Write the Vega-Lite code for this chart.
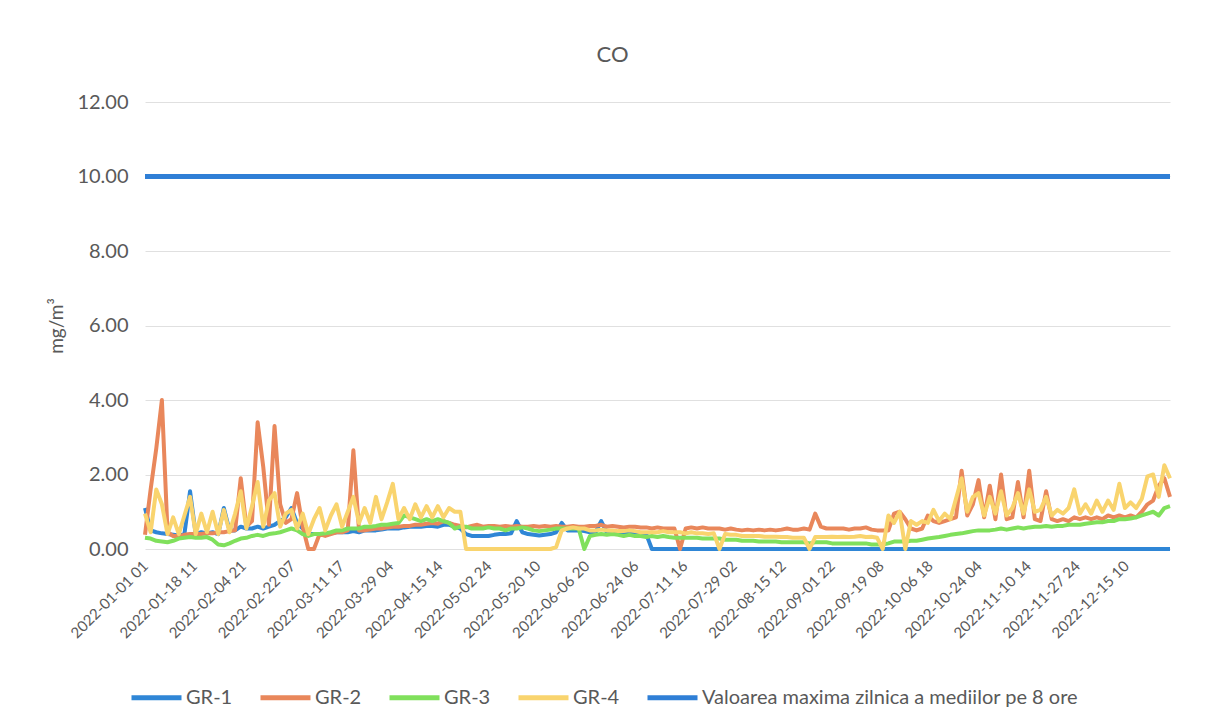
{
  "$schema": "https://vega.github.io/schema/vega-lite/v6.json",
  "width": 1025,
  "height": 447,
  "autosize": {"type": "none"},
  "padding": {"left": 145, "top": 102, "right": 37, "bottom": 176},
  "background": "white",
  "title": {"text": "CO", "fontSize": 22, "font": "Lato", "fontWeight": "normal", "color": "#595959", "dx": -45, "offset": 25},
  "config": {
    "view": {"stroke": null},
    "font": "Lato",
    "axisY": {"titleFont": "Lato", "titleFontSize": 19, "titleFontWeight": "normal", "titleColor": "#595959", "titlePadding": 10}
  },
  "datasets": {
    "co": [
      {"d":"2022-01-01","GR-1":1.10,"GR-2":0.38,"GR-3":0.30,"GR-4":0.95},
      {"d":"2022-01-03","GR-1":0.50,"GR-2":1.60,"GR-3":0.28,"GR-4":0.45},
      {"d":"2022-01-05","GR-1":0.45,"GR-2":2.70,"GR-3":0.22,"GR-4":1.60},
      {"d":"2022-01-07","GR-1":0.42,"GR-2":4.00,"GR-3":0.20,"GR-4":1.20},
      {"d":"2022-01-09","GR-1":0.40,"GR-2":0.45,"GR-3":0.18,"GR-4":0.40},
      {"d":"2022-01-11","GR-1":0.38,"GR-2":0.35,"GR-3":0.22,"GR-4":0.85},
      {"d":"2022-01-13","GR-1":0.36,"GR-2":0.35,"GR-3":0.28,"GR-4":0.40},
      {"d":"2022-01-15","GR-1":0.40,"GR-2":0.38,"GR-3":0.30,"GR-4":0.90},
      {"d":"2022-01-17","GR-1":1.55,"GR-2":0.40,"GR-3":0.32,"GR-4":1.40},
      {"d":"2022-01-19","GR-1":0.40,"GR-2":0.40,"GR-3":0.30,"GR-4":0.40},
      {"d":"2022-01-21","GR-1":0.45,"GR-2":0.40,"GR-3":0.30,"GR-4":0.95},
      {"d":"2022-01-23","GR-1":0.42,"GR-2":0.42,"GR-3":0.32,"GR-4":0.45},
      {"d":"2022-01-25","GR-1":0.45,"GR-2":0.42,"GR-3":0.25,"GR-4":1.00},
      {"d":"2022-01-27","GR-1":0.40,"GR-2":0.45,"GR-3":0.12,"GR-4":0.40},
      {"d":"2022-01-29","GR-1":1.10,"GR-2":0.45,"GR-3":0.10,"GR-4":1.05},
      {"d":"2022-01-31","GR-1":0.50,"GR-2":0.48,"GR-3":0.15,"GR-4":0.45},
      {"d":"2022-02-02","GR-1":0.50,"GR-2":0.50,"GR-3":0.22,"GR-4":0.95},
      {"d":"2022-02-04","GR-1":0.60,"GR-2":1.90,"GR-3":0.28,"GR-4":1.55},
      {"d":"2022-02-06","GR-1":0.55,"GR-2":0.60,"GR-3":0.30,"GR-4":0.55},
      {"d":"2022-02-08","GR-1":0.55,"GR-2":0.75,"GR-3":0.35,"GR-4":1.15},
      {"d":"2022-02-10","GR-1":0.60,"GR-2":3.40,"GR-3":0.38,"GR-4":1.80},
      {"d":"2022-02-12","GR-1":0.55,"GR-2":2.20,"GR-3":0.35,"GR-4":0.60},
      {"d":"2022-02-14","GR-1":0.60,"GR-2":0.65,"GR-3":0.40,"GR-4":1.30},
      {"d":"2022-02-16","GR-1":0.65,"GR-2":3.30,"GR-3":0.42,"GR-4":1.50},
      {"d":"2022-02-18","GR-1":0.75,"GR-2":1.20,"GR-3":0.45,"GR-4":0.60},
      {"d":"2022-02-20","GR-1":0.85,"GR-2":0.70,"GR-3":0.50,"GR-4":0.95},
      {"d":"2022-02-22","GR-1":1.10,"GR-2":0.80,"GR-3":0.55,"GR-4":1.05},
      {"d":"2022-02-24","GR-1":0.70,"GR-2":1.50,"GR-3":0.50,"GR-4":0.55},
      {"d":"2022-02-26","GR-1":0.55,"GR-2":0.60,"GR-3":0.40,"GR-4":0.95},
      {"d":"2022-02-28","GR-1":0.40,"GR-2":0.00,"GR-3":0.35,"GR-4":0.40},
      {"d":"2022-03-02","GR-1":0.40,"GR-2":0.00,"GR-3":0.40,"GR-4":0.80},
      {"d":"2022-03-04","GR-1":0.40,"GR-2":0.40,"GR-3":0.40,"GR-4":1.10},
      {"d":"2022-03-06","GR-1":0.40,"GR-2":0.35,"GR-3":0.42,"GR-4":0.50},
      {"d":"2022-03-08","GR-1":0.42,"GR-2":0.40,"GR-3":0.45,"GR-4":0.90},
      {"d":"2022-03-10","GR-1":0.45,"GR-2":0.45,"GR-3":0.50,"GR-4":1.20},
      {"d":"2022-03-12","GR-1":0.45,"GR-2":0.45,"GR-3":0.50,"GR-4":0.60},
      {"d":"2022-03-14","GR-1":0.45,"GR-2":0.50,"GR-3":0.55,"GR-4":1.00},
      {"d":"2022-03-16","GR-1":0.48,"GR-2":2.65,"GR-3":0.55,"GR-4":1.40},
      {"d":"2022-03-18","GR-1":0.45,"GR-2":0.50,"GR-3":0.55,"GR-4":0.70},
      {"d":"2022-03-20","GR-1":0.50,"GR-2":0.50,"GR-3":0.60,"GR-4":1.10},
      {"d":"2022-03-22","GR-1":0.50,"GR-2":0.52,"GR-3":0.60,"GR-4":0.70},
      {"d":"2022-03-24","GR-1":0.50,"GR-2":0.55,"GR-3":0.62,"GR-4":1.40},
      {"d":"2022-03-26","GR-1":0.52,"GR-2":0.55,"GR-3":0.65,"GR-4":0.80},
      {"d":"2022-03-28","GR-1":0.55,"GR-2":0.58,"GR-3":0.65,"GR-4":1.25},
      {"d":"2022-03-30","GR-1":0.55,"GR-2":0.60,"GR-3":0.68,"GR-4":1.75},
      {"d":"2022-04-01","GR-1":0.55,"GR-2":0.60,"GR-3":0.70,"GR-4":0.80},
      {"d":"2022-04-03","GR-1":0.58,"GR-2":0.62,"GR-3":0.90,"GR-4":1.10},
      {"d":"2022-04-05","GR-1":0.60,"GR-2":0.62,"GR-3":0.85,"GR-4":0.80},
      {"d":"2022-04-07","GR-1":0.60,"GR-2":0.65,"GR-3":0.80,"GR-4":1.20},
      {"d":"2022-04-09","GR-1":0.60,"GR-2":0.65,"GR-3":0.75,"GR-4":0.85},
      {"d":"2022-04-11","GR-1":0.62,"GR-2":0.68,"GR-3":0.80,"GR-4":1.15},
      {"d":"2022-04-13","GR-1":0.62,"GR-2":0.70,"GR-3":0.75,"GR-4":0.85},
      {"d":"2022-04-15","GR-1":0.60,"GR-2":0.68,"GR-3":0.80,"GR-4":1.15},
      {"d":"2022-04-17","GR-1":0.65,"GR-2":0.75,"GR-3":0.75,"GR-4":0.85},
      {"d":"2022-04-19","GR-1":0.65,"GR-2":0.70,"GR-3":0.70,"GR-4":1.10},
      {"d":"2022-04-21","GR-1":0.60,"GR-2":0.65,"GR-3":0.55,"GR-4":1.00},
      {"d":"2022-04-23","GR-1":0.55,"GR-2":0.62,"GR-3":0.60,"GR-4":1.00},
      {"d":"2022-04-25","GR-1":0.40,"GR-2":0.58,"GR-3":0.60,"GR-4":0.00},
      {"d":"2022-04-27","GR-1":0.35,"GR-2":0.62,"GR-3":0.55,"GR-4":0.00},
      {"d":"2022-04-29","GR-1":0.35,"GR-2":0.65,"GR-3":0.55,"GR-4":0.00},
      {"d":"2022-05-01","GR-1":0.35,"GR-2":0.60,"GR-3":0.55,"GR-4":0.00},
      {"d":"2022-05-03","GR-1":0.35,"GR-2":0.62,"GR-3":0.58,"GR-4":0.00},
      {"d":"2022-05-05","GR-1":0.38,"GR-2":0.62,"GR-3":0.55,"GR-4":0.00},
      {"d":"2022-05-07","GR-1":0.40,"GR-2":0.60,"GR-3":0.55,"GR-4":0.00},
      {"d":"2022-05-09","GR-1":0.40,"GR-2":0.62,"GR-3":0.50,"GR-4":0.00},
      {"d":"2022-05-11","GR-1":0.42,"GR-2":0.60,"GR-3":0.55,"GR-4":0.00},
      {"d":"2022-05-13","GR-1":0.75,"GR-2":0.62,"GR-3":0.55,"GR-4":0.00},
      {"d":"2022-05-15","GR-1":0.45,"GR-2":0.60,"GR-3":0.58,"GR-4":0.00},
      {"d":"2022-05-17","GR-1":0.40,"GR-2":0.60,"GR-3":0.55,"GR-4":0.00},
      {"d":"2022-05-19","GR-1":0.38,"GR-2":0.62,"GR-3":0.50,"GR-4":0.00},
      {"d":"2022-05-21","GR-1":0.36,"GR-2":0.60,"GR-3":0.48,"GR-4":0.00},
      {"d":"2022-05-23","GR-1":0.38,"GR-2":0.62,"GR-3":0.50,"GR-4":0.00},
      {"d":"2022-05-25","GR-1":0.40,"GR-2":0.60,"GR-3":0.52,"GR-4":0.00},
      {"d":"2022-05-27","GR-1":0.45,"GR-2":0.62,"GR-3":0.55,"GR-4":0.05},
      {"d":"2022-05-29","GR-1":0.70,"GR-2":0.60,"GR-3":0.55,"GR-4":0.50},
      {"d":"2022-05-31","GR-1":0.50,"GR-2":0.60,"GR-3":0.55,"GR-4":0.55},
      {"d":"2022-06-02","GR-1":0.50,"GR-2":0.62,"GR-3":0.55,"GR-4":0.58},
      {"d":"2022-06-04","GR-1":0.50,"GR-2":0.60,"GR-3":0.55,"GR-4":0.55},
      {"d":"2022-06-06","GR-1":0.48,"GR-2":0.60,"GR-3":0.00,"GR-4":0.55},
      {"d":"2022-06-08","GR-1":0.45,"GR-2":0.62,"GR-3":0.35,"GR-4":0.50},
      {"d":"2022-06-10","GR-1":0.45,"GR-2":0.62,"GR-3":0.38,"GR-4":0.50},
      {"d":"2022-06-12","GR-1":0.75,"GR-2":0.65,"GR-3":0.40,"GR-4":0.52},
      {"d":"2022-06-14","GR-1":0.45,"GR-2":0.60,"GR-3":0.38,"GR-4":0.50},
      {"d":"2022-06-16","GR-1":0.45,"GR-2":0.62,"GR-3":0.40,"GR-4":0.50},
      {"d":"2022-06-18","GR-1":0.45,"GR-2":0.60,"GR-3":0.38,"GR-4":0.48},
      {"d":"2022-06-20","GR-1":0.42,"GR-2":0.58,"GR-3":0.35,"GR-4":0.48},
      {"d":"2022-06-22","GR-1":0.42,"GR-2":0.60,"GR-3":0.38,"GR-4":0.50},
      {"d":"2022-06-24","GR-1":0.42,"GR-2":0.60,"GR-3":0.35,"GR-4":0.48},
      {"d":"2022-06-26","GR-1":0.40,"GR-2":0.58,"GR-3":0.35,"GR-4":0.45},
      {"d":"2022-06-28","GR-1":0.40,"GR-2":0.58,"GR-3":0.32,"GR-4":0.45},
      {"d":"2022-06-30","GR-1":0.00,"GR-2":0.55,"GR-3":0.35,"GR-4":0.45},
      {"d":"2022-07-02","GR-1":0.00,"GR-2":0.58,"GR-3":0.32,"GR-4":0.45},
      {"d":"2022-07-04","GR-1":0.00,"GR-2":0.55,"GR-3":0.35,"GR-4":0.48},
      {"d":"2022-07-06","GR-1":0.00,"GR-2":0.55,"GR-3":0.32,"GR-4":0.45},
      {"d":"2022-07-08","GR-1":0.00,"GR-2":0.55,"GR-3":0.30,"GR-4":0.45},
      {"d":"2022-07-10","GR-1":0.00,"GR-2":0.00,"GR-3":0.30,"GR-4":0.45},
      {"d":"2022-07-12","GR-1":0.00,"GR-2":0.55,"GR-3":0.30,"GR-4":0.42},
      {"d":"2022-07-14","GR-1":0.00,"GR-2":0.58,"GR-3":0.30,"GR-4":0.45},
      {"d":"2022-07-16","GR-1":0.00,"GR-2":0.55,"GR-3":0.30,"GR-4":0.42},
      {"d":"2022-07-18","GR-1":0.00,"GR-2":0.58,"GR-3":0.28,"GR-4":0.42},
      {"d":"2022-07-20","GR-1":0.00,"GR-2":0.55,"GR-3":0.28,"GR-4":0.40},
      {"d":"2022-07-22","GR-1":0.00,"GR-2":0.55,"GR-3":0.28,"GR-4":0.42},
      {"d":"2022-07-24","GR-1":0.00,"GR-2":0.55,"GR-3":0.28,"GR-4":0.00},
      {"d":"2022-07-26","GR-1":0.00,"GR-2":0.52,"GR-3":0.25,"GR-4":0.40},
      {"d":"2022-07-28","GR-1":0.00,"GR-2":0.55,"GR-3":0.25,"GR-4":0.38},
      {"d":"2022-07-30","GR-1":0.00,"GR-2":0.52,"GR-3":0.25,"GR-4":0.38},
      {"d":"2022-08-01","GR-1":0.00,"GR-2":0.50,"GR-3":0.22,"GR-4":0.35},
      {"d":"2022-08-03","GR-1":0.00,"GR-2":0.52,"GR-3":0.22,"GR-4":0.35},
      {"d":"2022-08-05","GR-1":0.00,"GR-2":0.50,"GR-3":0.22,"GR-4":0.35},
      {"d":"2022-08-07","GR-1":0.00,"GR-2":0.52,"GR-3":0.20,"GR-4":0.35},
      {"d":"2022-08-09","GR-1":0.00,"GR-2":0.50,"GR-3":0.20,"GR-4":0.33},
      {"d":"2022-08-11","GR-1":0.00,"GR-2":0.52,"GR-3":0.20,"GR-4":0.33},
      {"d":"2022-08-13","GR-1":0.00,"GR-2":0.50,"GR-3":0.20,"GR-4":0.33},
      {"d":"2022-08-15","GR-1":0.00,"GR-2":0.52,"GR-3":0.18,"GR-4":0.32},
      {"d":"2022-08-17","GR-1":0.00,"GR-2":0.55,"GR-3":0.18,"GR-4":0.32},
      {"d":"2022-08-19","GR-1":0.00,"GR-2":0.52,"GR-3":0.18,"GR-4":0.30},
      {"d":"2022-08-21","GR-1":0.00,"GR-2":0.52,"GR-3":0.18,"GR-4":0.30},
      {"d":"2022-08-23","GR-1":0.00,"GR-2":0.55,"GR-3":0.18,"GR-4":0.30},
      {"d":"2022-08-25","GR-1":0.00,"GR-2":0.52,"GR-3":0.15,"GR-4":0.00},
      {"d":"2022-08-27","GR-1":0.00,"GR-2":0.95,"GR-3":0.18,"GR-4":0.32},
      {"d":"2022-08-29","GR-1":0.00,"GR-2":0.60,"GR-3":0.18,"GR-4":0.32},
      {"d":"2022-08-31","GR-1":0.00,"GR-2":0.55,"GR-3":0.18,"GR-4":0.32},
      {"d":"2022-09-02","GR-1":0.00,"GR-2":0.55,"GR-3":0.15,"GR-4":0.33},
      {"d":"2022-09-04","GR-1":0.00,"GR-2":0.55,"GR-3":0.15,"GR-4":0.32},
      {"d":"2022-09-06","GR-1":0.00,"GR-2":0.55,"GR-3":0.15,"GR-4":0.33},
      {"d":"2022-09-08","GR-1":0.00,"GR-2":0.52,"GR-3":0.15,"GR-4":0.32},
      {"d":"2022-09-10","GR-1":0.00,"GR-2":0.55,"GR-3":0.15,"GR-4":0.33},
      {"d":"2022-09-12","GR-1":0.00,"GR-2":0.55,"GR-3":0.15,"GR-4":0.35},
      {"d":"2022-09-14","GR-1":0.00,"GR-2":0.58,"GR-3":0.15,"GR-4":0.32},
      {"d":"2022-09-16","GR-1":0.00,"GR-2":0.52,"GR-3":0.12,"GR-4":0.33},
      {"d":"2022-09-18","GR-1":0.00,"GR-2":0.50,"GR-3":0.12,"GR-4":0.30},
      {"d":"2022-09-20","GR-1":0.00,"GR-2":0.50,"GR-3":0.12,"GR-4":0.00},
      {"d":"2022-09-22","GR-1":0.00,"GR-2":0.50,"GR-3":0.15,"GR-4":0.90},
      {"d":"2022-09-24","GR-1":0.00,"GR-2":0.95,"GR-3":0.20,"GR-4":0.70},
      {"d":"2022-09-26","GR-1":0.00,"GR-2":1.00,"GR-3":0.20,"GR-4":1.00},
      {"d":"2022-09-28","GR-1":0.00,"GR-2":0.80,"GR-3":0.20,"GR-4":0.00},
      {"d":"2022-09-30","GR-1":0.00,"GR-2":0.55,"GR-3":0.22,"GR-4":0.75},
      {"d":"2022-10-02","GR-1":0.00,"GR-2":0.50,"GR-3":0.22,"GR-4":0.65},
      {"d":"2022-10-04","GR-1":0.00,"GR-2":0.55,"GR-3":0.25,"GR-4":0.75},
      {"d":"2022-10-06","GR-1":0.00,"GR-2":0.90,"GR-3":0.28,"GR-4":0.70},
      {"d":"2022-10-08","GR-1":0.00,"GR-2":0.75,"GR-3":0.30,"GR-4":1.05},
      {"d":"2022-10-10","GR-1":0.00,"GR-2":0.70,"GR-3":0.32,"GR-4":0.75},
      {"d":"2022-10-12","GR-1":0.00,"GR-2":0.75,"GR-3":0.35,"GR-4":0.95},
      {"d":"2022-10-14","GR-1":0.00,"GR-2":0.80,"GR-3":0.38,"GR-4":0.80},
      {"d":"2022-10-16","GR-1":0.00,"GR-2":0.85,"GR-3":0.40,"GR-4":1.35},
      {"d":"2022-10-18","GR-1":0.00,"GR-2":2.10,"GR-3":0.42,"GR-4":1.90},
      {"d":"2022-10-20","GR-1":0.00,"GR-2":0.90,"GR-3":0.45,"GR-4":1.00},
      {"d":"2022-10-22","GR-1":0.00,"GR-2":1.20,"GR-3":0.48,"GR-4":1.40},
      {"d":"2022-10-24","GR-1":0.00,"GR-2":1.85,"GR-3":0.50,"GR-4":1.50},
      {"d":"2022-10-26","GR-1":0.00,"GR-2":0.85,"GR-3":0.50,"GR-4":0.90},
      {"d":"2022-10-28","GR-1":0.00,"GR-2":1.70,"GR-3":0.50,"GR-4":1.40},
      {"d":"2022-10-30","GR-1":0.00,"GR-2":0.80,"GR-3":0.52,"GR-4":0.95},
      {"d":"2022-11-01","GR-1":0.00,"GR-2":2.00,"GR-3":0.55,"GR-4":1.55},
      {"d":"2022-11-03","GR-1":0.00,"GR-2":0.80,"GR-3":0.52,"GR-4":0.90},
      {"d":"2022-11-05","GR-1":0.00,"GR-2":0.85,"GR-3":0.55,"GR-4":1.10},
      {"d":"2022-11-07","GR-1":0.00,"GR-2":1.80,"GR-3":0.58,"GR-4":1.50},
      {"d":"2022-11-09","GR-1":0.00,"GR-2":0.85,"GR-3":0.55,"GR-4":0.95},
      {"d":"2022-11-11","GR-1":0.00,"GR-2":2.10,"GR-3":0.58,"GR-4":1.60},
      {"d":"2022-11-13","GR-1":0.00,"GR-2":0.80,"GR-3":0.60,"GR-4":1.00},
      {"d":"2022-11-15","GR-1":0.00,"GR-2":0.75,"GR-3":0.60,"GR-4":1.05},
      {"d":"2022-11-17","GR-1":0.00,"GR-2":1.55,"GR-3":0.62,"GR-4":1.40},
      {"d":"2022-11-19","GR-1":0.00,"GR-2":0.80,"GR-3":0.60,"GR-4":0.90},
      {"d":"2022-11-21","GR-1":0.00,"GR-2":0.75,"GR-3":0.62,"GR-4":1.05},
      {"d":"2022-11-23","GR-1":0.00,"GR-2":0.80,"GR-3":0.62,"GR-4":0.95},
      {"d":"2022-11-25","GR-1":0.00,"GR-2":0.75,"GR-3":0.65,"GR-4":1.10},
      {"d":"2022-11-27","GR-1":0.00,"GR-2":0.85,"GR-3":0.65,"GR-4":1.60},
      {"d":"2022-11-29","GR-1":0.00,"GR-2":0.80,"GR-3":0.65,"GR-4":0.95},
      {"d":"2022-12-01","GR-1":0.00,"GR-2":0.85,"GR-3":0.68,"GR-4":1.20},
      {"d":"2022-12-03","GR-1":0.00,"GR-2":0.80,"GR-3":0.70,"GR-4":0.95},
      {"d":"2022-12-05","GR-1":0.00,"GR-2":0.85,"GR-3":0.72,"GR-4":1.30},
      {"d":"2022-12-07","GR-1":0.00,"GR-2":0.80,"GR-3":0.72,"GR-4":1.00},
      {"d":"2022-12-09","GR-1":0.00,"GR-2":0.90,"GR-3":0.75,"GR-4":1.30},
      {"d":"2022-12-11","GR-1":0.00,"GR-2":0.85,"GR-3":0.75,"GR-4":1.05},
      {"d":"2022-12-13","GR-1":0.00,"GR-2":0.90,"GR-3":0.80,"GR-4":1.75},
      {"d":"2022-12-15","GR-1":0.00,"GR-2":0.85,"GR-3":0.80,"GR-4":1.10},
      {"d":"2022-12-17","GR-1":0.00,"GR-2":0.90,"GR-3":0.82,"GR-4":1.25},
      {"d":"2022-12-19","GR-1":0.00,"GR-2":0.85,"GR-3":0.85,"GR-4":1.10},
      {"d":"2022-12-21","GR-1":0.00,"GR-2":1.00,"GR-3":0.90,"GR-4":1.35},
      {"d":"2022-12-23","GR-1":0.00,"GR-2":1.20,"GR-3":0.95,"GR-4":1.95},
      {"d":"2022-12-25","GR-1":0.00,"GR-2":1.30,"GR-3":1.00,"GR-4":2.00},
      {"d":"2022-12-27","GR-1":0.00,"GR-2":1.70,"GR-3":0.90,"GR-4":1.40},
      {"d":"2022-12-29","GR-1":0.00,"GR-2":1.90,"GR-3":1.10,"GR-4":2.25},
      {"d":"2022-12-31","GR-1":0.00,"GR-2":1.40,"GR-3":1.15,"GR-4":1.90}
    ],
    "limit": [
      {"d":"2022-01-01","series":"Valoarea maxima zilnica a mediilor pe 8 ore","value":10},
      {"d":"2022-12-31","series":"Valoarea maxima zilnica a mediilor pe 8 ore","value":10}
    ]
  },
  "encoding": {
    "x": {
      "field": "d",
      "type": "temporal",
      "scale": {"type": "utc", "domain": [{"year":2022,"month":1,"date":1,"utc":true},{"year":2022,"month":12,"date":31,"utc":true}]},
      "axis": {
        "title": null,
        "grid": false,
        "domain": false,
        "ticks": false,
        "labelAngle": -45,
        "labelAlign": "right",
        "labelBaseline": "middle",
        "labelPadding": 14,
        "labelFontSize": 15,
        "labelColor": "#595959",
        "labelFont": "Lato",
        "labelOverlap": false,
        "labelBound": false,
        "labelFlush": false,
        "values": [
          {"year":2022,"month":1,"date":1,"hours":1,"utc":true},
          {"year":2022,"month":1,"date":18,"hours":11,"utc":true},
          {"year":2022,"month":2,"date":4,"hours":21,"utc":true},
          {"year":2022,"month":2,"date":22,"hours":7,"utc":true},
          {"year":2022,"month":3,"date":11,"hours":17,"utc":true},
          {"year":2022,"month":3,"date":29,"hours":4,"utc":true},
          {"year":2022,"month":4,"date":15,"hours":14,"utc":true},
          {"year":2022,"month":5,"date":3,"hours":0,"utc":true},
          {"year":2022,"month":5,"date":20,"hours":10,"utc":true},
          {"year":2022,"month":6,"date":6,"hours":20,"utc":true},
          {"year":2022,"month":6,"date":24,"hours":6,"utc":true},
          {"year":2022,"month":7,"date":11,"hours":16,"utc":true},
          {"year":2022,"month":7,"date":29,"hours":2,"utc":true},
          {"year":2022,"month":8,"date":15,"hours":12,"utc":true},
          {"year":2022,"month":9,"date":1,"hours":22,"utc":true},
          {"year":2022,"month":9,"date":19,"hours":8,"utc":true},
          {"year":2022,"month":10,"date":6,"hours":18,"utc":true},
          {"year":2022,"month":10,"date":24,"hours":4,"utc":true},
          {"year":2022,"month":11,"date":10,"hours":14,"utc":true},
          {"year":2022,"month":11,"date":28,"hours":0,"utc":true},
          {"year":2022,"month":12,"date":15,"hours":10,"utc":true}
        ],
        "labelExpr": "utchours(datum.value) == 0 ? utcFormat(datum.value - 3600000, '%Y-%m-%d') + ' 24' : utcFormat(datum.value, '%Y-%m-%d %H')"
      }
    },
    "y": {
      "field": "value",
      "type": "quantitative",
      "scale": {"domain": [0, 12], "nice": false},
      "axis": {
        "title": "mg/m³",
        "values": [0, 2, 4, 6, 8, 10, 12],
        "format": ".2f",
        "labelFont": "Lato",
        "labelFontSize": 20,
        "labelColor": "#595959",
        "labelPadding": 17,
        "domain": false,
        "ticks": false,
        "grid": true,
        "gridColor": "#e0e0e0",
        "gridWidth": 1
      }
    },
    "color": {
      "field": "series",
      "type": "nominal",
      "scale": {
        "domain": ["GR-1", "GR-2", "GR-3", "GR-4", "Valoarea maxima zilnica a mediilor pe 8 ore"],
        "range": ["#2f86d6", "#e9875b", "#80e05c", "#f9d46e", "#2f7fd6"]
      },
      "legend": {
        "title": null,
        "orient": "none",
        "direction": "horizontal",
        "legendX": -16,
        "legendY": 568,
        "symbolType": "stroke",
        "symbolSize": 2500,
        "symbolStrokeWidth": 5,
        "labelFont": "Lato",
        "labelFontSize": 20,
        "labelColor": "#595959",
        "labelOffset": 2,
        "columnPadding": 17,
        "labelLimit": 500
      }
    }
  },
  "layer": [
    {
      "data": {"name": "co"},
      "transform": [{"fold": ["GR-1", "GR-2", "GR-3", "GR-4"], "as": ["series", "value"]}],
      "mark": {"type": "line", "strokeWidth": 4, "strokeJoin": "round"}
    },
    {
      "data": {"name": "limit"},
      "mark": {"type": "line", "strokeWidth": 5}
    }
  ]
}
